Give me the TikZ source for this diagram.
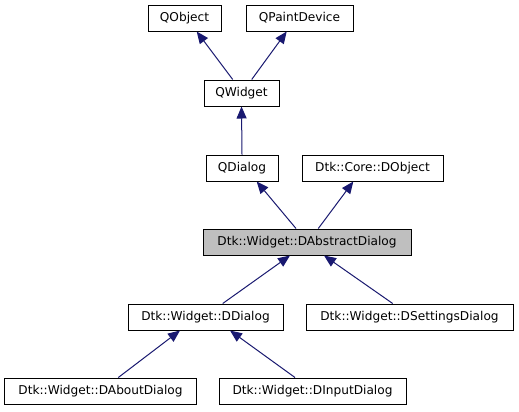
\documentclass[tikz,border=0pt]{standalone}
\usepackage{fontspec}
\setmainfont{DejaVu Sans}
\usetikzlibrary{arrows.meta}
\definecolor{arrowblue}{HTML}{191970}
\definecolor{boxgray}{HTML}{BFBFBF}
\begin{document}
\begin{tikzpicture}[x=1bp,y=-1bp,
  cls/.style={draw=black,line width=1bp,fill=white,inner sep=0pt,minimum height=26bp,
    font=\fontsize{12.2}{14}\selectfont,text=black},
  cur/.style={cls,fill=boxgray},
  inh/.style={draw=arrowblue,line width=1bp,-{Triangle[length=12bp,width=10bp]},arrowblue}]
\useasboundingbox (0,0) rectangle (519,411);
\fill[white] (0,0) rectangle (519,411);
\node[cls,minimum width=73bp] (qobject) at (184.5,18) {QObject};
\node[cls,minimum width=107bp] (qpaint) at (299.5,18) {QPaintDevice};
\node[cls,minimum width=75bp] (qwidget) at (241.5,93) {QWidget};
\node[cls,minimum width=72bp] (qdialog) at (242,168) {QDialog};
\node[cls,minimum width=141bp] (dobject) at (372.5,168) {Dtk::Core::DObject};
\node[cur,minimum width=208bp] (dabs) at (307,242) {Dtk::Widget::DAbstractDialog};
\node[cls,minimum width=155bp] (ddialog) at (205.5,317) {Dtk::Widget::DDialog};
\node[cls,minimum width=207bp] (dsettings) at (409.5,317) {Dtk::Widget::DSettingsDialog};
\node[cls,minimum width=191bp] (dabout) at (100.5,391) {Dtk::Widget::DAboutDialog};
\node[cls,minimum width=187bp] (dinput) at (312.5,391) {Dtk::Widget::DInputDialog};
\draw[inh] ([xshift=-8.8bp]qwidget.north) -- ([xshift=12.2bp]qobject.south);
\draw[inh] ([xshift=10.2bp]qwidget.north) -- ([xshift=-12.8bp]qpaint.south);
\draw[inh] (qdialog.north) -- (qwidget.south);
\draw[inh] ([xshift=-11bp]dabs.north) -- ([xshift=14.7bp]qdialog.south);
\draw[inh] ([xshift=11.3bp]dabs.north) -- ([xshift=-19.2bp]dobject.south);
\draw[inh] ([xshift=17.2bp]ddialog.north) -- ([xshift=-17bp]dabs.south);
\draw[inh] ([xshift=-16.8bp]dsettings.north) -- ([xshift=17bp]dabs.south);
\draw[inh] ([xshift=17.8bp]dabout.north) -- ([xshift=-25.5bp]ddialog.south);
\draw[inh] ([xshift=-17.5bp]dinput.north) -- ([xshift=24.5bp]ddialog.south);
\end{tikzpicture}
\end{document}
